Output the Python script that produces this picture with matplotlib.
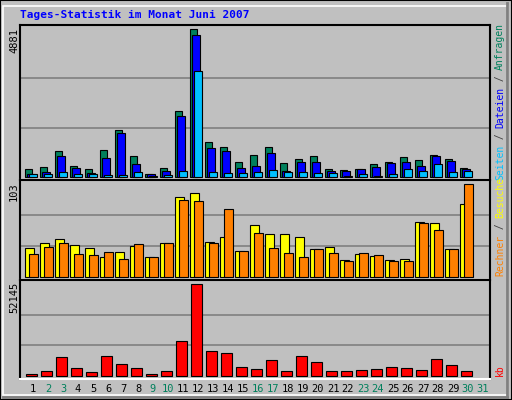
import matplotlib
matplotlib.use("Agg")
import matplotlib.pyplot as plt
from matplotlib.patches import Rectangle
import numpy as np

days = list(range(1, 32))
weekend = [2, 3, 9, 10, 16, 17, 23, 24, 30, 31]

# values per day (day 31 has no data)
anfragen = [276, 342, 872, 375, 276, 905, 1535, 707, 110, 309, 2164, 4881, 1170, 1005, 508,
            740, 983, 453, 585, 685, 254, 221, 254, 420, 486, 651, 552, 718, 585, 287]
dateien = [88, 166, 707, 309, 143, 640, 1435, 442, 88, 210, 1998, 4692, 972, 872, 287,
           353, 784, 188, 486, 486, 188, 188, 254, 320, 453, 486, 353, 685, 519, 254]
seiten = [88, 88, 155, 110, 110, 77, 77, 155, 44, 77, 210, 3489, 177, 144, 121,
          155, 221, 155, 155, 121, 121, 33, 88, 33, 88, 254, 188, 420, 155, 188]
besuche = [32, 38, 42, 35, 32, 22, 27, 34, 22, 38, 89, 93, 39, 44, 29,
           57, 48, 47, 44, 31, 33, 19, 25, 23, 19, 20, 61, 60, 31, 81]
rechner = [25, 33, 37, 25, 24, 27, 20, 36, 22, 38, 85, 84, 37, 75, 29,
           49, 32, 26, 22, 31, 26, 17, 26, 24, 17, 18, 60, 52, 31, 103]
kb = [700, 2474, 10467, 4187, 1903, 11038, 6470, 4187, 700, 2474, 19600, 52145, 13892, 12750, 4758,
      3616, 8754, 2474, 11038, 7612, 2474, 2474, 3045, 3616, 4758, 4187, 3045, 9325, 5900, 2474]

W, H = 512, 400
BG = "#C0C0C0"
fig = plt.figure(figsize=(W / 100, H / 100), dpi=100, facecolor=BG)

def px_rect(x0, y0, x1, y1):
    return [x0 / W, 1 - y1 / H, (x1 - x0) / W, (y1 - y0) / H]

def fx(x):
    return x / W

def fy(y):
    return 1 - y / H

# outer 3d frame
fig.patches.append(Rectangle((0, 0), 1, 1, transform=fig.transFigure, fill=False,
                             edgecolor="black", lw=1.5))
fig.patches.append(Rectangle((fx(3), fy(395)), fx(505), 392 / H - 3 / H, transform=fig.transFigure,
                             fill=False, edgecolor="white", lw=1.2))
fig.add_artist(plt.Line2D([fx(507), fx(507)], [fy(3), fy(397)], transform=fig.transFigure, color="#808080", lw=2))
fig.add_artist(plt.Line2D([fx(3), fx(507)], [fy(397), fy(397)], transform=fig.transFigure, color="#808080", lw=2))

n = len(anfragen)
x = np.arange(n)
XMAX = 470 / 15


def panel(y0, y1, base, top_px, vmax):
    ax = fig.add_axes(px_rect(20, y0, 490, y1))
    ax.set_facecolor(BG)
    span = base - top_px
    lo = -(y1 - base) / span * vmax
    hi = vmax + (top_px - y0) / span * vmax
    ax.set_ylim(lo, hi)
    ax.set_xlim(0, XMAX)
    for g in (vmax / 3, 2 * vmax / 3):
        ax.axhline(g, color="#808080", lw=1.2, zorder=0)
    ax.set_xticks([])
    ax.set_yticks([])
    for s in ("top", "left", "right"):
        ax.spines[s].set_color("black")
        ax.spines[s].set_linewidth(1.5)
    ax.spines["bottom"].set_color("white")
    ax.spines["bottom"].set_linewidth(1.5)
    return ax

ax1 = panel(25, 180, 177, 29, max(anfragen))
ax1.bar(x + 0.33, anfragen, width=0.5, align="edge", color="#00805C", edgecolor="black", lw=0.8)
ax1.bar(x + 0.48, dateien, width=0.5, align="edge", color="#0000FF", edgecolor="black", lw=0.8)
ax1.bar(x + 0.63, seiten, width=0.5, align="edge", color="#00C0FF", edgecolor="black", lw=0.8)

ax2 = panel(180, 280, 276.7, 184, max(rechner))
ax2.bar(x + 0.33, besuche, width=0.57, align="edge", color="#FFFF00", edgecolor="black", lw=0.8)
ax2.bar(x + 0.6, rechner, width=0.57, align="edge", color="#FF8000", edgecolor="black", lw=0.8)

ax3 = panel(280, 379, 375.7, 284, max(kb))
ax3.bar(x + 0.4, kb, width=0.73, align="edge", color="#FF0000", edgecolor="black", lw=0.8)

# title
fig.text(fx(20), fy(15), "Tages-Statistik im Monat Juni 2007", color="#0000FF",
         family="DejaVu Sans Mono", weight="bold", fontsize=8, va="center", ha="left")

# y max labels
for val, ytop in ((max(anfragen), 28), (max(rechner), 182), (max(kb), 282)):
    fig.text(fx(14), fy(ytop), str(val), rotation=90, ha="center", va="top",
             family="DejaVu Sans Mono", fontsize=7.5, color="black")

# day labels
for d in days:
    fig.text(fx(33 + 15 * (d - 1)), fy(389), str(d), ha="center", va="center",
             family="DejaVu Sans Mono", fontsize=7.5,
             color="#00805C" if d in weekend else "black")

# right side legends (rotated, bottom-to-top)
CH = 5.8

def legend(parts, ybottom):
    y = ybottom
    for txt, col in parts:
        fig.text(fx(500), fy(y), txt, rotation=90, ha="center", va="bottom",
                 family="DejaVu Sans Mono", fontsize=7, color=col)
        y -= CH * len(txt)

legend([("Seiten", "#00C0FF"), (" / ", "#404040"), ("Dateien", "#0000FF"),
        (" / ", "#404040"), ("Anfragen", "#00805C")], 180)
legend([("Rechner", "#FF8000"), (" / ", "#404040"), ("Besuche", "#FFFF00")], 276)
legend([("kb", "#FF0000")], 376)

fig.savefig("out.png", dpi=100, facecolor=BG)
